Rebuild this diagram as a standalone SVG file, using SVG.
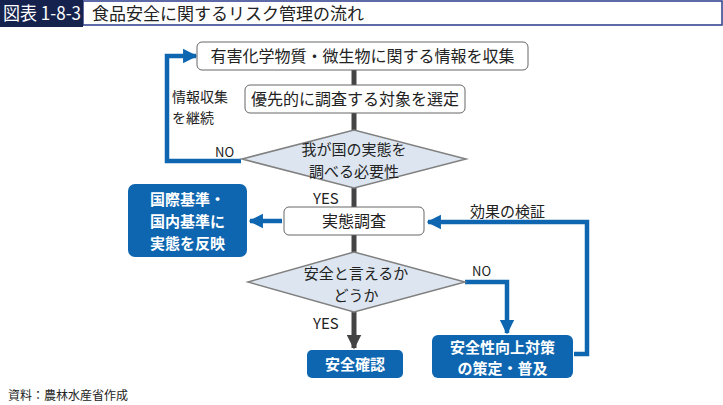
<svg xmlns="http://www.w3.org/2000/svg" width="723" height="405" viewBox="0 0 723 405">
<defs>
<style>
text{font-family:"Noto Sans CJK JP","Noto Sans",sans-serif;fill:#222}
.box{fill:#fff;stroke:#666;stroke-width:1}
.dia{fill:#dde6f0;stroke:#808080;stroke-width:1.5}
.blue{fill:#0e66b0}
.wt{fill:#fff;font-weight:bold;font-size:15px}
.t{font-size:16px}
.m{font-size:15px}
.s{font-size:13px}
.spine{stroke:#444;stroke-width:5;fill:none}
.bl{stroke:#0e66b0;stroke-width:4.5;fill:none}
</style>
<marker id="ab" viewBox="0 0 10 10" refX="9" refY="5" markerWidth="3.2" markerHeight="3.6" orient="auto" markerUnits="strokeWidth"><path d="M0,0 L10,5 L0,10 z" fill="#0e66b0"/></marker>
<marker id="ad" viewBox="0 0 10 10" refX="9" refY="5" markerWidth="3" markerHeight="3" orient="auto" markerUnits="strokeWidth"><path d="M0,0 L10,5 L0,10 z" fill="#444"/></marker>
</defs>
<g id="title">
<rect x="83" y="1" width="639" height="24" fill="#fff" stroke="#2a3a8a" stroke-width="1.5"/>
<rect x="0" y="0" width="83" height="27" fill="#15224d"/>
<text x="3" y="20" textLength="78" lengthAdjust="spacingAndGlyphs" style="fill:#fff;font-size:18px">図表 1-8-3</text>
<text x="92" y="20" style="font-size:17px">食品安全に関するリスク管理の流れ</text>
</g>
<g id="connectors">
<line class="spine" x1="354" y1="70" x2="354" y2="85"/>
<line class="spine" x1="354" y1="113" x2="354" y2="131"/>
<line class="spine" x1="354" y1="188" x2="354" y2="207"/>
<line class="spine" x1="354" y1="235" x2="354" y2="253"/>
<line class="spine" x1="354" y1="312" x2="354" y2="348" marker-end="url(#ad)"/>
<polyline class="bl" points="241,161 167,161 167,56 196,56" marker-end="url(#ab)"/>
<line class="bl" x1="282" y1="221" x2="250" y2="221" marker-end="url(#ab)"/>
<polyline class="bl" points="574,354 587,354 587,222 428,222" marker-end="url(#ab)"/>
<polyline class="bl" points="465,282 507,282 507,333" marker-end="url(#ab)"/>
<text class="s" x="215" y="157">NO</text>
<text style="font-size:14px" x="172" y="102">情報収集</text>
<text style="font-size:14px" x="172" y="123">を継続</text>
<text class="m" x="313" y="204">YES</text>
<text class="m" x="470" y="217">効果の検証</text>
<text class="s" x="472" y="276">NO</text>
<text class="m" x="313" y="329">YES</text>
</g>
<g id="n1"><rect class="box" x="197" y="42" width="331" height="28" rx="5"/><text class="t" x="362.5" y="62" text-anchor="middle">有害化学物質・微生物に関する情報を収集</text></g>
<g id="n2"><rect class="box" x="245" y="85" width="220" height="28" rx="5"/><text class="t" x="355" y="105" text-anchor="middle">優先的に調査する対象を選定</text></g>
<g id="d1"><polygon class="dia" points="242,159 354,130 466,159 354,188"/><text class="m" x="354" y="155" text-anchor="middle">我が国の実態を</text><text class="m" x="354" y="177" text-anchor="middle">調べる必要性</text></g>
<g id="n3"><rect class="box" x="284" y="207" width="140" height="28" rx="5"/><text class="t" x="354" y="227" text-anchor="middle">実態調査</text></g>
<g id="b1"><rect class="blue" x="128" y="184" width="119" height="73" rx="7"/><text class="wt" x="187.5" y="205" text-anchor="middle">国際基準・</text><text class="wt" x="187.5" y="227" text-anchor="middle">国内基準に</text><text class="wt" x="187.5" y="249" text-anchor="middle">実態を反映</text></g>
<g id="d2"><polygon class="dia" points="248,282 354,252 465,282 354,312"/><text class="m" x="356" y="279" text-anchor="middle">安全と言えるか</text><text class="m" x="356" y="301" text-anchor="middle">どうか</text></g>
<g id="b2"><rect class="blue" x="307" y="350" width="96" height="28" rx="5"/><text class="wt" x="355" y="370" text-anchor="middle">安全確認</text></g>
<g id="b3"><rect class="blue" x="432" y="335" width="141" height="43" rx="6"/><text class="wt" x="502.5" y="353" text-anchor="middle">安全性向上対策</text><text class="wt" x="502.5" y="374" text-anchor="middle">の策定・普及</text></g>
<g id="footer"><text x="8" y="400" style="font-size:12px">資料：農林水産省作成</text></g>
</svg>
